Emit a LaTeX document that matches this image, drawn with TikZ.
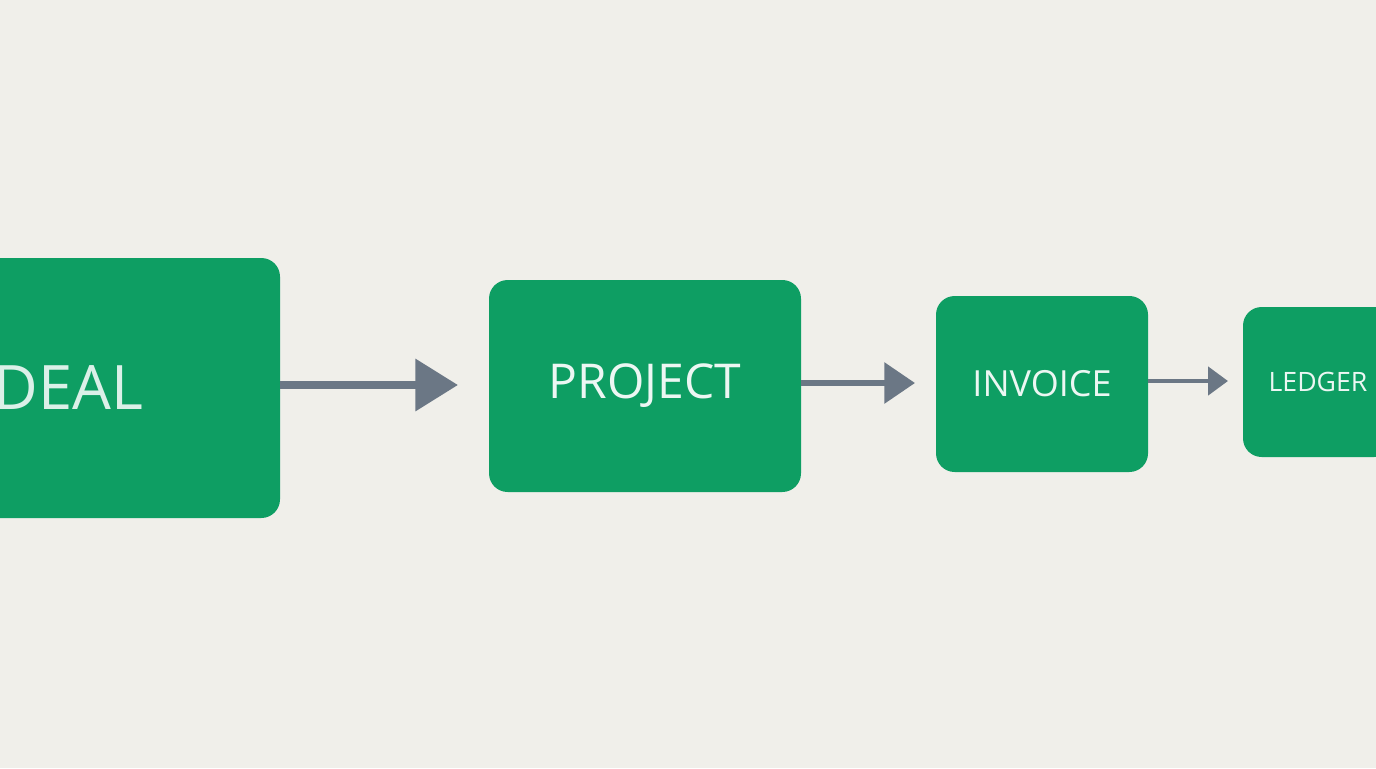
\documentclass[tikz,border=0pt]{standalone}
\usepackage{fontspec}
\setmainfont{Open Sans}
\usetikzlibrary{arrows.meta}
\definecolor{bg}{HTML}{F0EFEA}
\definecolor{gr}{HTML}{0E9E63}
\definecolor{ar}{HTML}{6B7785}
\begin{document}
\begin{tikzpicture}[x=0.75pt,y=-0.75pt,
  box/.style={fill=gr,rounded corners=14pt,text=white!92!gr,inner sep=0pt},
  arr/.style={draw=ar,line width=6pt,-{Triangle[length=32pt,width=38pt]}}]
\fill[bg] (0,0) rectangle (1376,768);
\clip (0,0) rectangle (1376,768);
\node[box,minimum width=300pt*0.75,minimum height=260pt*0.75] (d) at (130,388) {};
\node[text=white!85!gr,font=\fontsize{46}{46}\selectfont,anchor=east] (dt) at (148,388) {DEAL};
\node[box,minimum width=312pt*0.75,minimum height=212pt*0.75,font=\fontsize{36}{36}\selectfont] (p) at (645,386) {PROJECT};
\node[box,minimum width=212pt*0.75,minimum height=176pt*0.75,font=\fontsize{27}{27}\selectfont] (i) at (1042,384) {INVOICE};
\node[box,minimum width=150pt*0.75,minimum height=150pt*0.75,font=\fontsize{20}{20}\selectfont] (l) at (1318,382) {LEDGER};
\draw[arr] (d.east) ++(0,-3) -- (458,385);
\draw[arr,line width=4.5pt,-{Triangle[length=23pt,width=30pt]}] (p.east) ++(0,-3) -- (915,383);
\draw[arr,line width=3.5pt,-{Triangle[length=15pt,width=21pt]}] (i.east) ++(0,-3) -- (1228,381);
\end{tikzpicture}
\end{document}
